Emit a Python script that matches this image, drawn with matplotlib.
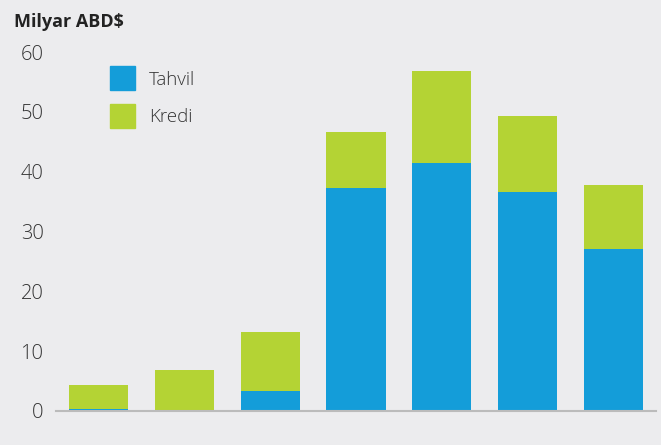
import numpy as np
import matplotlib.pyplot as plt
from matplotlib.patches import Patch

# Values (billion USD)
tahvil = [0.4, 0.0, 3.4, 37.3, 41.4, 36.6, 27.0]
toplam = [4.3, 6.9, 13.2, 46.6, 56.8, 49.3, 37.7]
kredi = [t - b for t, b in zip(toplam, tahvil)]
y_ticks = [0, 10, 20, 30, 40, 50, 60]

blue = '#149DD9'
green = '#B4D334'
bg = '#ECECEE'

plt.rcParams['font.family'] = ['Open Sans', 'DejaVu Sans']

fig = plt.figure(figsize=(6.61, 4.45), dpi=100, facecolor=bg)
ax = fig.add_axes([56 / 661, 34 / 445, 600 / 661, 359 / 445], facecolor=bg)

x = np.arange(len(tahvil))
ax.bar(x, tahvil, width=0.69, color=blue)
ax.bar(x, kredi, width=0.69, bottom=tahvil, color=green)

ax.set_xlim(-0.5, 6.5)
ax.set_ylim(0, 60)
ax.set_yticks(y_ticks)
ax.set_xticks([])
ax.tick_params(axis='y', length=0, pad=9, labelsize=14.5, labelcolor='#333333')
for lbl in ax.get_yticklabels():
    lbl.set_fontweight('light')

for side in ['top', 'right', 'left']:
    ax.spines[side].set_visible(False)
ax.spines['bottom'].set_color('#BBBBBB')
ax.spines['bottom'].set_linewidth(1.5)

handles = [Patch(color=blue, label='Tahvil'), Patch(color=green, label='Kredi')]
leg = ax.legend(handles=handles, loc='upper left', bbox_to_anchor=(0.09, 0.96),
                frameon=False, fontsize=13.5, handlelength=1.33, handleheight=1.6,
                handletextpad=0.75, labelspacing=0.73, borderpad=0, borderaxespad=0)
for t in leg.get_texts():
    t.set_color('#333333')
    t.set_fontweight('light')

fig.text(14 / 661, 1 - 22 / 445, 'Milyar ABD$', fontsize=13, fontweight='bold',
         color='#222222', va='center', ha='left')

fig.savefig('out.png', dpi=100, facecolor=bg)
